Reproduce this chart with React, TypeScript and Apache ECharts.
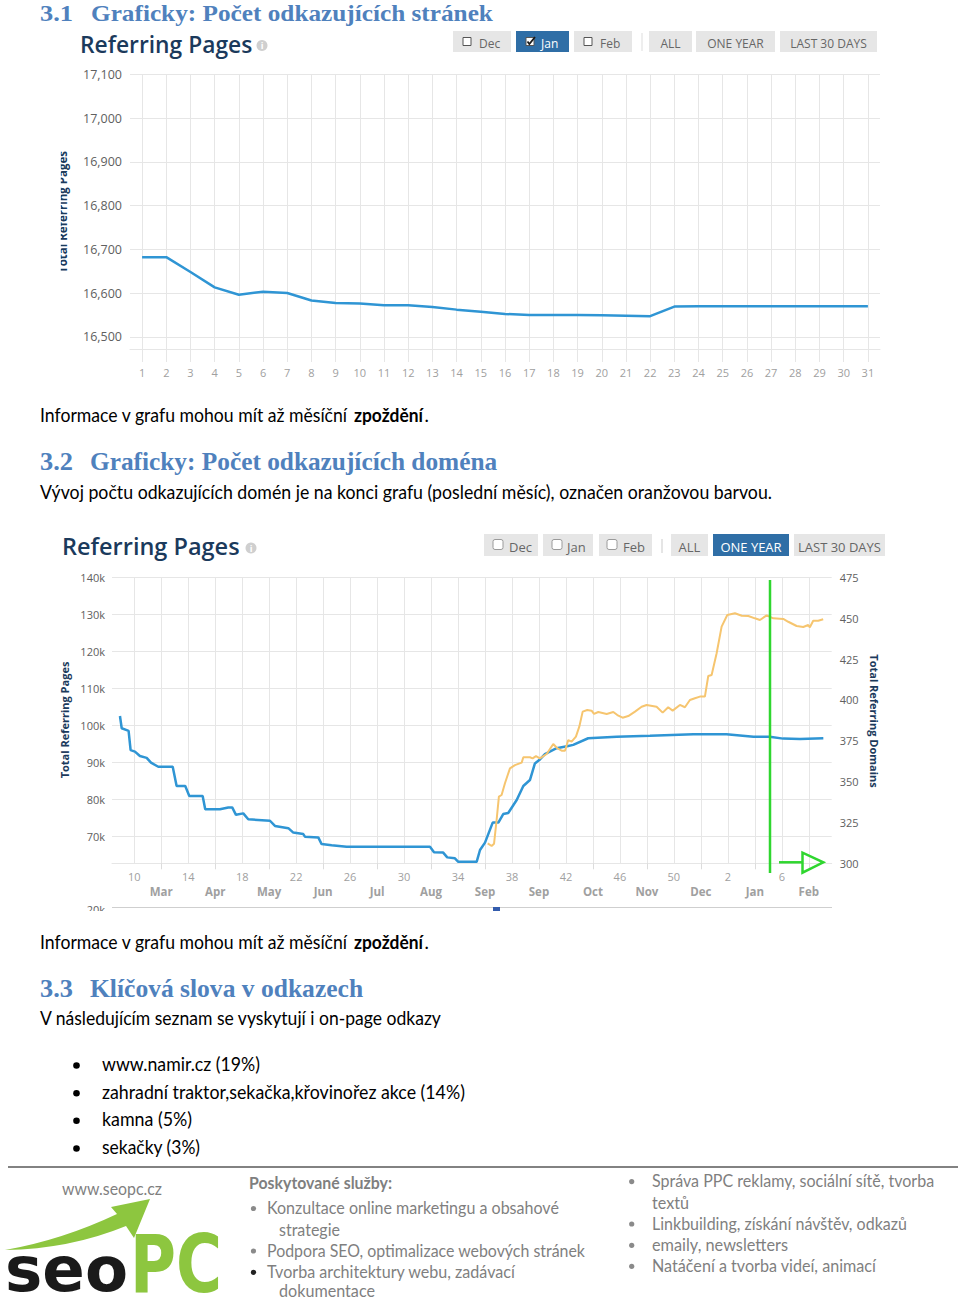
import React, { useEffect, useLayoutEffect, useRef, useState } from 'react';
import * as echarts from 'echarts';

// ---------- Chart 1: Referring Pages, daily (January) ----------
const dayCategories = [1, 2, 3, 4, 5, 6, 7, 8, 9, 10, 11, 12, 13, 14, 15, 16, 17, 18, 19, 20, 21, 22, 23, 24, 25, 26, 27, 28, 29, 30, 31];
const dailyReferringPages = [16682, 16682, 16648, 16613, 16596, 16603, 16600, 16583, 16577, 16576, 16572, 16572, 16568, 16562, 16557, 16552, 16550, 16550, 16550, 16549, 16548, 16547, 16569, 16570, 16570, 16570, 16570, 16570, 16570, 16570, 16570];
const dailyAxisTicks = [16500, 16600, 16700, 16800, 16900, 17000, 17100];

// ---------- Chart 2: Referring Pages / Domains, one year (x = week number) ----------
const pageWeeks = [8.94, 9.07, 9.44, 9.58, 9.73, 10.05, 10.42, 10.92, 11.24, 11.78, 12.85, 13.14, 13.78, 14.08, 15.07, 15.26, 16.35, 16.97, 17.26, 17.54, 18.08, 18.45, 20.06, 20.43, 21.42, 21.79, 22.53, 22.65, 23.64, 23.89, 24.63, 25.74, 31.92, 32.22, 32.9, 33.2, 33.77, 34.02, 35.38, 35.63, 36.0, 36.57, 36.99, 37.35, 37.72, 38.35, 38.84, 39.33, 39.7, 40.02, 40.44, 41.31, 42.17, 42.54, 43.65, 45.76, 48.23, 51.44, 53.9, 55.9, 57.1, 58.1, 59.35, 61.08];
const referringPages = [102500, 99200, 98700, 98500, 93300, 92900, 91700, 91200, 89900, 88800, 88800, 83600, 83600, 80900, 80900, 77300, 77300, 77800, 77800, 75800, 76200, 74600, 74200, 72800, 72200, 71000, 70600, 69900, 69700, 67900, 67600, 67200, 67200, 65700, 65600, 64300, 64050, 63100, 63100, 66300, 68300, 73700, 73700, 76000, 76300, 79800, 83600, 85200, 89700, 90600, 92200, 93800, 94400, 94700, 96500, 96900, 97200, 97600, 97600, 96900, 96900, 96400, 96300, 96500];
const domainWeeks = [36.2, 36.49, 36.67, 36.86, 37.03, 37.23, 37.48, 37.85, 38.22, 38.72, 38.84, 39.33, 39.53, 39.78, 40.07, 40.57, 41.06, 41.36, 41.68, 41.93, 42.17, 42.42, 42.74, 42.99, 43.24, 43.58, 43.9, 44.08, 44.4, 45.02, 45.51, 45.81, 46.2, 46.62, 47.12, 47.61, 47.98, 48.72, 49.17, 49.58, 49.91, 50.45, 50.82, 51.19, 51.56, 51.93, 52.3, 52.55, 52.8, 53.17, 53.54, 53.96, 54.53, 55.03, 55.52, 56.01, 56.38, 56.88, 57.37, 58.11, 58.48, 59.1, 59.59, 59.96, 60.08, 60.33, 60.7, 61.07];
const referringDomains = [312.2, 310.6, 312, 326.5, 340.8, 341.8, 349, 358.1, 360.1, 361.6, 364.9, 364.9, 364.2, 365.6, 364.2, 366.9, 373, 370.4, 368.9, 368.9, 375.4, 374.4, 377.5, 383.6, 392.8, 393.8, 393.4, 391.4, 392.6, 391.4, 392.6, 390.7, 389.1, 390.1, 392.8, 395.8, 396.9, 395.8, 392.2, 395.5, 393.4, 396.9, 395.5, 399.9, 401, 402, 402, 414.6, 415.2, 428.5, 444.8, 451.9, 453, 451.5, 451.3, 449.9, 448.9, 451.7, 449.9, 449.5, 447.8, 445.2, 444.6, 445.8, 444.4, 448.4, 448.4, 449.3];
const gridWeeks = [10, 12, 14, 16, 18, 20, 22, 24, 26, 28, 30, 32, 34, 36, 38, 40, 42, 44, 46, 48, 50, 52, 54, 56, 58, 60];
const weekLabelTicks = [10, 14, 18, 22, 26, 30, 34, 38, 42, 46, 50, 54, 58];
const monthTicks = [12, 16, 20, 24, 28, 32, 36, 40, 44, 48, 52, 56, 60];
const monthLabels = ['Mar', 'Apr', 'May', 'Jun', 'Jul', 'Aug', 'Sep', 'Sep', 'Oct', 'Nov', 'Dec', 'Jan', 'Feb'];
const pageAxisTicks = [70000, 80000, 90000, 100000, 110000, 120000, 130000, 140000];

const FONT = 'Open Sans';
const GRID = '#e6e6e6';
const NAVY = '#1b3a5c';

type Btn = { x: number; w: number; label: string; active?: boolean; boxX?: number; textX?: number; checked?: boolean };

function buildButtons(btns: Btn[], top: number, h: number, textY: number, fontSize: number, boxY: number, boxSize: number, boxStroke: string, boxR: number) {
  const els: any[] = [];
  for (const b of btns) {
    els.push({ type: 'rect', shape: { x: b.x, y: top, width: b.w, height: h }, style: { fill: b.active ? '#2f6ea6' : '#e6e6e6' } });
    if (b.boxX !== undefined) {
      els.push({ type: 'rect', shape: { x: b.boxX, y: boxY, width: boxSize, height: boxSize, r: boxR }, style: { fill: '#fff', stroke: boxStroke, lineWidth: 1 } });
      if (b.checked) {
        els.push({ type: 'polyline', shape: { points: [[b.boxX + 1.5, boxY + boxSize * 0.5], [b.boxX + boxSize * 0.42, boxY + boxSize - 1.5], [b.boxX + boxSize + 1, boxY - 0.5]] }, style: { stroke: '#1a1a1a', lineWidth: 1.8, fill: 'none' } });
      }
    }
    els.push({
      type: 'text',
      x: b.boxX !== undefined ? (b.textX as number) : b.x + b.w / 2,
      y: textY,
      style: { text: b.label, fill: b.active ? '#ffffff' : '#666666', fontSize, fontFamily: FONT, align: b.boxX !== undefined ? 'left' : 'center', verticalAlign: 'middle' },
    });
  }
  return els;
}

function option1(): any {
  const btns: Btn[] = [
    { x: 453, w: 58, label: 'Dec', boxX: 463, textX: 479 },
    { x: 516, w: 53, label: 'Jan', boxX: 526, textX: 541, active: true, checked: true },
    { x: 574, w: 58, label: 'Feb', boxX: 584, textX: 600 },
    { x: 649, w: 43, label: 'ALL' },
    { x: 696, w: 79, label: 'ONE YEAR' },
    { x: 780, w: 97, label: 'LAST 30 DAYS' },
  ];
  return {
    animation: false,
    grid: { left: 130, right: 80, top: 49.3, bottom: 41 },
    xAxis: {
      type: 'value', min: 0.5, max: 31.5,
      axisLine: { show: true, lineStyle: { color: GRID, width: 1 } },
      axisTick: { show: true, customValues: dayCategories, length: 13, lineStyle: { color: GRID } },
      splitLine: { show: true, lineStyle: { color: GRID } },
      axisLabel: { customValues: dayCategories, margin: 18, color: '#a0a0a0', fontSize: 11, fontFamily: FONT },
    },
    yAxis: {
      type: 'value', min: 16472, max: 17100,
      axisLine: { show: false },
      axisTick: { show: false, customValues: dailyAxisTicks },
      splitLine: { show: true, lineStyle: { color: GRID } },
      axisLabel: { customValues: dailyAxisTicks, margin: 8, color: '#606060', fontSize: 12.5, fontFamily: FONT, formatter: (v: number) => v.toLocaleString('en-US') },
    },
    series: [{
      type: 'line', symbol: 'none', lineStyle: { color: '#2f95d4', width: 2.5 },
      data: dayCategories.map((d, i) => [d, dailyReferringPages[i]]),
    }],
    graphic: [
      { type: 'text', x: 80, y: 19, style: { text: 'Referring Pages', fill: NAVY, fontSize: 22.8, fontWeight: 600, fontFamily: FONT, verticalAlign: 'middle' } },
      { type: 'circle', shape: { cx: 262, cy: 20.5, r: 5.5 }, style: { fill: '#cfcfcf' } },
      { type: 'text', x: 262, y: 20.5, style: { text: 'i', fill: '#fff', fontSize: 9, fontWeight: 'bold', fontFamily: FONT, align: 'center', verticalAlign: 'middle' } },
      ...buildButtons(btns, 6, 21, 18, 12, 12.5, 8, '#555555', 0),
      { type: 'line', shape: { x1: 642, y1: 8, x2: 642, y2: 26 }, style: { stroke: '#dddddd', lineWidth: 1 } },
      { type: 'text', x: 62.5, y: 187, rotation: Math.PI / 2, style: { text: 'Total Referring Pages', fill: NAVY, fontSize: 11.5, fontWeight: 'bold', fontFamily: FONT, align: 'center', verticalAlign: 'middle' } },
      // the reference crops the upper half of this rotated title
      { type: 'rect', z: 100, shape: { x: 0, y: 100, width: 60.8, height: 200 }, style: { fill: '#ffffff' } },
    ],
  };
}

function option2(): any {
  const btns: Btn[] = [
    { x: 484, w: 54, label: 'Dec', boxX: 493, textX: 509 },
    { x: 543, w: 50, label: 'Jan', boxX: 552, textX: 567 },
    { x: 599, w: 53, label: 'Feb', boxX: 607, textX: 623 },
    { x: 671, w: 37, label: 'ALL' },
    { x: 713, w: 76, label: 'ONE YEAR', active: true },
    { x: 794, w: 91, label: 'LAST 30 DAYS' },
  ];
  const xMin = 8.35;
  const xMax = 61.7;
  return {
    animation: false,
    grid: { left: 112, right: 128.3, top: 52.3, bottom: 47.7 },
    xAxis: [
      {
        type: 'value', min: xMin, max: xMax, position: 'bottom',
        axisLine: { show: true, lineStyle: { color: GRID } },
        axisTick: { show: false, customValues: gridWeeks },
        splitLine: { show: true, lineStyle: { color: GRID } },
        axisLabel: { customValues: weekLabelTicks, margin: 8, color: '#a0a0a0', fontSize: 11, fontFamily: FONT, formatter: (v: number) => String(v > 52 ? v - 52 : v) },
      },
      {
        type: 'value', min: xMin, max: xMax, position: 'bottom',
        axisLine: { show: false },
        axisTick: { show: true, customValues: monthTicks, length: 6, lineStyle: { color: '#dcdcdc' } },
        splitLine: { show: false },
        axisLabel: { customValues: monthTicks, margin: 22, color: '#a0a0a0', fontSize: 11.5, fontWeight: 'bold', fontFamily: FONT, formatter: (v: number) => monthLabels[monthTicks.indexOf(Math.round(v))] },
      },
    ],
    yAxis: [
      {
        type: 'value', position: 'left', min: 62700, max: 140000,
        axisLine: { show: false },
        axisTick: { show: false, customValues: pageAxisTicks },
        splitLine: { show: true, lineStyle: { color: GRID } },
        axisLabel: { customValues: pageAxisTicks, margin: 7, color: '#606060', fontSize: 11, fontFamily: FONT, formatter: (v: number) => `${Math.round(v / 1000)}k` },
      },
      {
        type: 'value', position: 'right', min: 300, max: 475, interval: 25,
        axisLine: { show: false }, axisTick: { show: false }, splitLine: { show: false },
        axisLabel: { margin: 8, color: '#606060', fontSize: 11, fontFamily: FONT },
      },
    ],
    series: [
      { type: 'line', symbol: 'none', xAxisIndex: 0, yAxisIndex: 0, lineStyle: { color: '#2f95d4', width: 2.5 }, data: pageWeeks.map((w, i) => [w, referringPages[i]]) },
      { type: 'line', symbol: 'none', xAxisIndex: 0, yAxisIndex: 1, lineStyle: { color: '#f6c56f', width: 2 }, data: domainWeeks.map((w, i) => [w, referringDomains[i]]) },
    ],
    graphic: [
      { type: 'text', x: 62, y: 21, style: { text: 'Referring Pages', fill: NAVY, fontSize: 23.5, fontWeight: 600, fontFamily: FONT, verticalAlign: 'middle' } },
      { type: 'circle', shape: { cx: 251, cy: 23, r: 5.5 }, style: { fill: '#cfcfcf' } },
      { type: 'text', x: 251, y: 23, style: { text: 'i', fill: '#fff', fontSize: 9, fontWeight: 'bold', fontFamily: FONT, align: 'center', verticalAlign: 'middle' } },
      ...buildButtons(btns, 9, 22, 21.5, 13, 14.5, 10, '#9a9a9a', 2),
      { type: 'line', shape: { x1: 662, y1: 14, x2: 662, y2: 28 }, style: { stroke: '#dddddd', lineWidth: 1.5 } },
      { type: 'text', x: 64.5, y: 195, rotation: Math.PI / 2, style: { text: 'Total Referring Pages', fill: NAVY, fontSize: 11, fontWeight: 'bold', fontFamily: FONT, align: 'center', verticalAlign: 'middle' } },
      { type: 'text', x: 874.5, y: 196, rotation: -Math.PI / 2, style: { text: 'Total Referring Domains', fill: NAVY, fontSize: 11, fontWeight: 'bold', fontFamily: FONT, align: 'center', verticalAlign: 'middle' } },
      // hand-drawn green annotation
      { type: 'line', z: 50, shape: { x1: 770, y1: 55, x2: 770, y2: 348 }, style: { stroke: '#2fd62f', lineWidth: 2.5 } },
      { type: 'line', z: 50, shape: { x1: 779, y1: 337.3, x2: 803, y2: 337.3 }, style: { stroke: '#2fd62f', lineWidth: 2.5 } },
      { type: 'polygon', z: 50, shape: { points: [[802.5, 327.7], [802.5, 347.7], [823.3, 337.3]] }, style: { fill: 'none', stroke: '#2fd62f', lineWidth: 2.5 } },
      // navigator remnants (cropped)
      { type: 'line', shape: { x1: 112, y1: 382.5, x2: 832, y2: 382.5 }, style: { stroke: '#cfcfcf', lineWidth: 1 } },
      { type: 'text', x: 105, y: 378.5, style: { text: '20k', fill: '#606060', fontSize: 11, fontFamily: FONT, align: 'right', verticalAlign: 'top' } },
      { type: 'rect', shape: { x: 493, y: 382, width: 7, height: 4 }, style: { fill: '#335cad' } },
    ],
  };
}

function useChart(ref: React.RefObject<HTMLDivElement>, build: () => any) {
  useEffect(() => {
    if (!ref.current) return;
    const chart = echarts.init(ref.current, undefined, { renderer: 'svg' });
    chart.setOption(build());
    return () => chart.dispose();
  }, []);
}

const H = { fontFamily: '"Liberation Serif", serif', fontWeight: 'bold' as const, fontSize: 25, fill: '#4f81bd' };
const H0 = { ...H, fontSize: 23.8 };
const B = { fontFamily: 'Lato, sans-serif', fontSize: 18.5, fill: '#000000' };
const F = { fontFamily: 'Lato, sans-serif', fontSize: 16.5, fill: '#7f7f7f' };

// Text whose natural width is measured and scaled horizontally to the width it has in the reference
function T({ x, y, w, s, children, weight }: { x: number; y: number; w?: number; s: any; children: string; weight?: string }) {
  const ref = useRef<SVGTextElement>(null);
  const [k, setK] = useState(1);
  useLayoutEffect(() => {
    if (!w) return;
    const measure = () => {
      const el = ref.current;
      if (!el) return;
      const len = el.getComputedTextLength();
      if (len > 0) setK(w / len);
    };
    measure();
    const fs: any = (document as any).fonts;
    if (fs && fs.ready) fs.ready.then(measure);
  }, []);
  return (
    <text ref={ref} x={0} y={0} transform={`translate(${x},${y}) scale(${k},1)`} {...s} fontWeight={weight || s.fontWeight}>
      {children}
    </text>
  );
}

function InfoLine({ y }: { y: number }) {
  return (
    <g>
      <T x={40} y={y} w={307} s={B}>Informace v grafu mohou mít až měsíční</T>
      <T x={354} y={y} w={69} s={B} weight="bold">zpoždění</T>
      <T x={424.5} y={y} s={B}>.</T>
    </g>
  );
}

export default function App() {
  const r1 = useRef<HTMLDivElement>(null);
  const r2 = useRef<HTMLDivElement>(null);
  useChart(r1, option1);
  useChart(r2, option2);

  return (
    <div style={{ position: 'absolute', left: 0, top: 0, width: 960, height: 1301, background: '#ffffff', overflow: 'hidden' }}>
      <svg width={960} height={1301} style={{ position: 'absolute', left: 0, top: 0 }}>
        {/* 3.1 */}
        <T x={40} y={21.3} w={33} s={H0}>3.1</T>
        <T x={91} y={21.3} w={402} s={H0}>Graficky: Počet odkazujících stránek</T>
        <InfoLine y={422} />
        {/* 3.2 */}
        <T x={40} y={470} w={33} s={H}>3.2</T>
        <T x={90} y={470} w={407} s={H}>Graficky: Počet odkazujících doména</T>
        <T x={40} y={499} w={732} s={B}>Vývoj počtu odkazujících domén je na konci grafu (poslední měsíc), označen oranžovou barvou.</T>
        <InfoLine y={949} />
        {/* 3.3 */}
        <T x={40} y={996.5} w={33} s={H}>3.3</T>
        <T x={90} y={996.5} w={273} s={H}>Klíčová slova v odkazech</T>
        <T x={40} y={1025} w={401} s={B}>V následujícím seznam se vyskytují i on-page odkazy</T>
        <circle cx={76.5} cy={1065.5} r={3.3} fill="#000" />
        <T x={102} y={1071} w={158} s={B}>www.namir.cz (19%)</T>
        <circle cx={76.5} cy={1093.2} r={3.3} fill="#000" />
        <T x={102} y={1098.7} w={363} s={B}>zahradní traktor,sekačka,křovinořez akce (14%)</T>
        <circle cx={76.5} cy={1120.8} r={3.3} fill="#000" />
        <T x={102} y={1126.3} w={90} s={B}>kamna (5%)</T>
        <circle cx={76.5} cy={1148.5} r={3.3} fill="#000" />
        <T x={102} y={1154} w={98} s={B}>sekačky (3%)</T>
        {/* footer */}
        <line x1={8} y1={1167} x2={958} y2={1167} stroke="#595959" strokeWidth={1.5} />
        <T x={62} y={1195} w={100} s={F}>www.seopc.cz</T>
        <path d="M5,1250 Q62,1240 117,1214 L111,1207 L150,1199 L134,1238 L126,1226 Q70,1249 5,1250 Z" fill="#8dc63f" />
        <T x={5} y={1291} w={123} s={{ fontFamily: 'DejaVu Sans', fontWeight: 'bold', fontSize: 62, fill: '#1a1a1a' }}>seo</T>
        <T x={130} y={1292} w={92} s={{ fontFamily: 'DejaVu Sans', fontWeight: 'bold', fontSize: 80, fill: '#8dc63f' }}>PC</T>
        <T x={249} y={1189.3} w={143} s={F} weight="bold">Poskytované služby:</T>
        <circle cx={253.5} cy={1208.5} r={2.6} fill="#8a8a8a" />
        <T x={267} y={1214.3} w={292} s={F}>Konzultace online marketingu a obsahové</T>
        <T x={279} y={1235.5} w={61} s={F}>strategie</T>
        <circle cx={253.5} cy={1251} r={2.6} fill="#8a8a8a" />
        <T x={267} y={1256.7} w={318} s={F}>Podpora SEO, optimalizace webových stránek</T>
        <circle cx={253.5} cy={1272.3} r={2.6} fill="#222222" />
        <T x={267} y={1278} w={248} s={F}>Tvorba architektury webu, zadávací</T>
        <T x={279} y={1297.3} w={96} s={F}>dokumentace</T>
        <circle cx={631.7} cy={1181.6} r={2.6} fill="#8a8a8a" />
        <T x={652} y={1187.3} w={282} s={F}>Správa PPC reklamy, sociální sítě, tvorba</T>
        <T x={652} y={1208.5} w={37} s={F}>textů</T>
        <circle cx={631.7} cy={1224} r={2.6} fill="#8a8a8a" />
        <T x={652} y={1229.7} w={255} s={F}>Linkbuilding, získání návštěv, odkazů</T>
        <circle cx={631.7} cy={1245.3} r={2.6} fill="#8a8a8a" />
        <T x={652} y={1251} w={136} s={F}>emaily, newsletters</T>
        <circle cx={631.7} cy={1266.3} r={2.6} fill="#8a8a8a" />
        <T x={652} y={1272} w={224} s={F}>Natáčení a tvorba videí, animací</T>
      </svg>
      <div ref={r1} style={{ position: 'absolute', left: 0, top: 25, width: 960, height: 365 }} />
      <div ref={r2} style={{ position: 'absolute', left: 0, top: 525, width: 960, height: 386 }} />
    </div>
  );
}
